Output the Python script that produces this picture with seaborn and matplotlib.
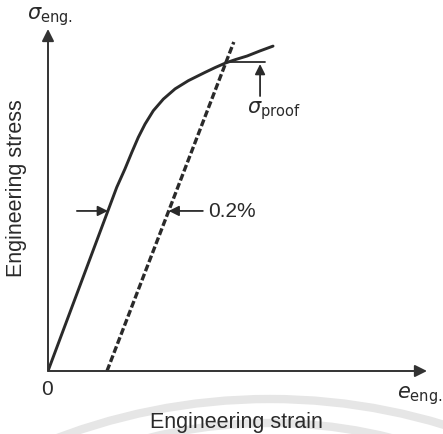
import matplotlib
matplotlib.use("Agg")
import matplotlib.pyplot as plt
from matplotlib.patches import Arc
import seaborn as sns
import pandas as pd

sns.set_style("white")
plt.rcParams['font.family'] = ['Liberation Sans', 'DejaVu Sans']
plt.rcParams['mathtext.fontset'] = 'dejavusans'
plt.rcParams['lines.scale_dashes'] = False

# ---- data (strain in %, stress normalised) ----
curve_strain = [0.0, 0.233, 0.261, 0.284, 0.306, 0.329, 0.357, 0.391, 0.431,
                0.476, 0.532, 0.566, 0.603, 0.637, 0.675, 0.719, 0.763]
curve_stress = [0.0, 0.537, 0.591, 0.639, 0.683, 0.722, 0.761, 0.795, 0.825,
                0.849, 0.873, 0.887, 0.901, 0.911, 0.921, 0.936, 0.950]
offset_strain = [0.2, 0.630]
offset_stress = [0.0, 0.962]
proof_strain = 0.603
proof_stress = 0.9035
x_max = 1.285
y_max = 1.0

labels = {
    "ylabel": "Engineering stress",
    "xlabel": "Engineering strain",
    "ytop": r"$\sigma_{\mathrm{eng.}}$",
    "xend": r"$e_{\mathrm{eng.}}$",
    "origin": "0",
    "offset": "0.2%",
    "proof": r"$\sigma_{\mathrm{proof}}$",
}

W, H = 443, 435
fig = plt.figure(figsize=(W / 100, H / 100), dpi=100)

# faint scan watermark arcs behind the chart
bg = fig.add_axes([0, 0, 1, 1], zorder=-5)
bg.set_xlim(0, W)
bg.set_ylim(H, 0)
bg.axis("off")
bg.add_patch(Arc((270, 400 + 600), 1200, 1200, theta1=180, theta2=360,
                 color="#e6e6e6", lw=6))
bg.add_patch(Arc((270, 424 + 500), 1000, 1000, theta1=180, theta2=360,
                 color="#e6e6e6", lw=6))

ox, oy = 48, 372
ax = fig.add_axes([ox / W, (H - oy) / H, 379 / W, 342 / H])
ax.set_xlim(0, x_max)
ax.set_ylim(0, y_max)
for s in ax.spines.values():
    s.set_visible(False)
ax.set_xticks([])
ax.set_yticks([])
ax.patch.set_alpha(0)

ink = "#2a2a2a"
curve_df = pd.DataFrame({"strain": curve_strain, "stress": curve_stress})
off_df = pd.DataFrame({"strain": offset_strain, "stress": offset_stress})
sns.lineplot(data=curve_df, x="strain", y="stress", ax=ax, color=ink, lw=2.1,
             sort=False, estimator=None)
sns.lineplot(data=off_df, x="strain", y="stress", ax=ax, color=ink, lw=2.4,
             sort=False, estimator=None)
dash_line = ax.lines[-1]
dash_line.set_linestyle((0, (5.0, 2.0)))
dash_line.set_dash_capstyle("butt")

# axes arrows
axis_arrow = dict(arrowstyle="-|>", color="#333333", lw=1.4,
                  mutation_scale=18, shrinkA=0, shrinkB=0)
ax.annotate("", xy=(x_max, 0), xytext=(0, 0), arrowprops=axis_arrow,
            annotation_clip=False)
ax.annotate("", xy=(0, y_max), xytext=(0, 0), arrowprops=axis_arrow,
            annotation_clip=False)

small_arrow = dict(arrowstyle="-|>", color=ink, lw=1.3,
                   mutation_scale=15, shrinkA=0, shrinkB=0)
E = curve_stress[1] / curve_strain[1]
E_off = offset_stress[1] / (offset_strain[1] - offset_strain[0])
y_mark = 0.468
ax.annotate("", xy=(y_mark / E, y_mark), xytext=(0.098, y_mark),
            arrowprops=small_arrow, annotation_clip=False)
ax.annotate("", xy=(offset_strain[0] + y_mark / E_off, y_mark),
            xytext=(0.525, y_mark),
            arrowprops=small_arrow, annotation_clip=False)
ax.text(0.542, y_mark, labels["offset"], ha="left", va="center",
        fontsize=15, color=ink)

# proof stress marker
ax.plot([proof_strain, 0.736], [proof_stress, proof_stress], color=ink, lw=1.3)
ax.annotate("", xy=(0.719, proof_stress - 0.006), xytext=(0.719, 0.804),
            arrowprops=small_arrow, annotation_clip=False)
ax.text(0.676, 0.765, labels["proof"], ha="left", va="center",
        fontsize=15, color=ink)

# text labels
fig.text(17 / W, 1 - 188 / H, labels["ylabel"], rotation=90, ha="center",
         va="center", fontsize=15.5, color=ink)
fig.text(236 / W, 1 - 423 / H, labels["xlabel"], ha="center", va="center",
         fontsize=15.5, color=ink)
fig.text(50 / W, 1 - 17 / H, labels["ytop"], ha="center", va="center",
         fontsize=15, color=ink)
fig.text(420 / W, 1 - 396 / H, labels["xend"], ha="center", va="center",
         fontsize=15, color=ink)
fig.text(47 / W, 1 - 390 / H, labels["origin"], ha="center", va="center",
         fontsize=15, color=ink)

fig.savefig("out.png", dpi=100, facecolor="white")
